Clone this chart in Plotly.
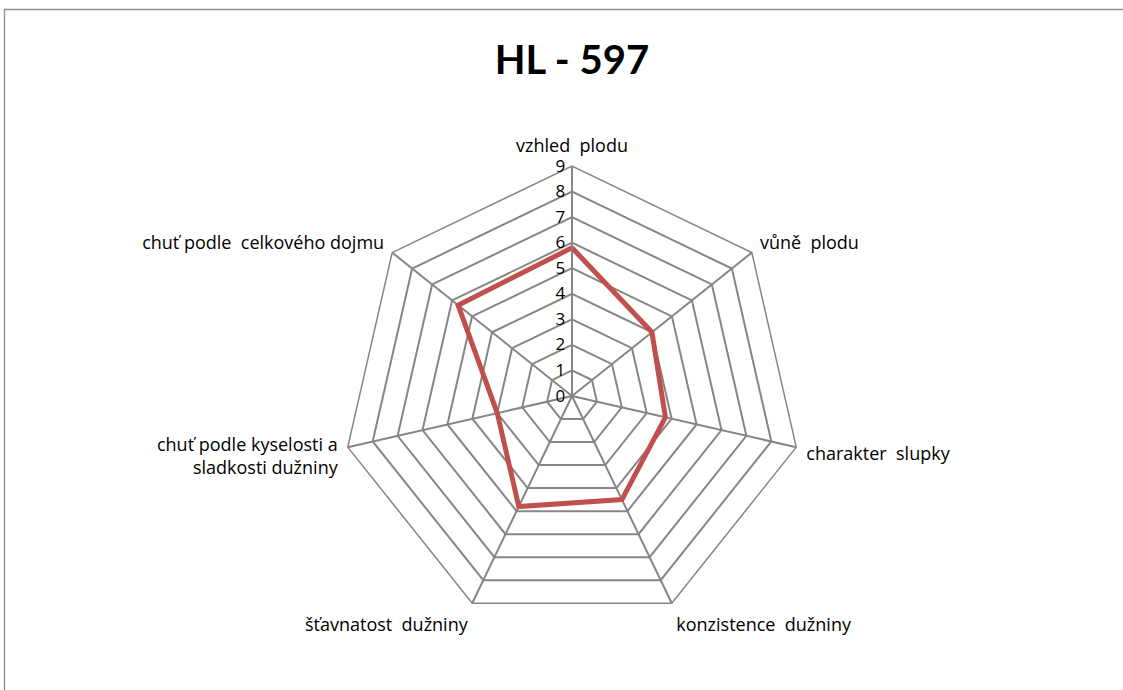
import plotly.graph_objects as go

categories = [
    "vzhled  plodu",
    "vůně  plodu",
    "charakter  slupky",
    "konzistence  dužniny",
    "šťavnatost  dužniny",
    "chuť podle kyselosti a<br>sladkosti dužniny",
    "chuť podle  celkového dojmu",
]
values = [5.8, 4.0, 3.75, 4.5, 4.8, 3.0, 5.7]
radial_ticks = [0, 1, 2, 3, 4, 5, 6, 7, 8, 9]
title_text = "HL - 597"

FONT = "Open Sans"
GRID = "#868686"

fig = go.Figure()
fig.add_trace(go.Scatterpolar(
    r=values + values[:1],
    theta=categories + categories[:1],
    mode="lines",
    line=dict(color="#C0504D", width=5),
    showlegend=False,
    hoverinfo="skip",
))

W, H = 1123, 690
cx, cy, R = 572, 396, 230
ml, mr = cx - R, W - (cx + R)
mt, mb = cy - R, H - (cy + R)

def px2paper_x(px):
    return (px - ml) / (2 * R)

def px2paper_y(py):
    return (H - mb - py) / (2 * R)

fig.update_layout(
    width=W, height=H,
    margin=dict(l=ml, r=mr, t=mt, b=mb),
    paper_bgcolor="white",
    plot_bgcolor="white",
    font=dict(family=FONT, size=18, color="black"),
    title=dict(text="<b>" + title_text + "</b>", x=0.5093, xanchor="center",
               y=1 - 60 / H, yanchor="middle", yref="container",
               font=dict(family="Lato", size=40, color="black")),
    polar=dict(
        bgcolor="white",
        gridshape="linear",
        domain=dict(x=[0, 1], y=[0, 1]),
        angularaxis=dict(
            direction="clockwise",
            rotation=90,
            showline=True,
            linecolor=GRID,
            linewidth=1.5,
            gridcolor=GRID,
            gridwidth=1.5,
            ticks="outside",
            ticklen=6,
            tickcolor="rgba(0,0,0,0)",
            tickfont=dict(family=FONT, size=18, color="black"),
        ),
        radialaxis=dict(
            range=[0, 9],
            tickvals=radial_ticks,
            ticktext=[str(t) for t in radial_ticks],
            angle=90,
            tickangle=90,
            side="counterclockwise",
            showline=True,
            linecolor=GRID,
            linewidth=1.5,
            gridcolor=GRID,
            gridwidth=1.5,
            ticks="",
            tickfont=dict(family=FONT, size=17, color="black"),
        ),
    ),
    shapes=[dict(
        type="rect", xref="paper", yref="paper",
        x0=px2paper_x(4.5), x1=px2paper_x(W + 20),
        y0=px2paper_y(H + 20), y1=px2paper_y(9.5),
        line=dict(color="#8c8c8c", width=1.3),
        fillcolor="rgba(0,0,0,0)",
        layer="below",
    )],
)

fig.write_html("out.html", config={"displayModeBar": False},
               post_script="document.body.style.margin='0';")
